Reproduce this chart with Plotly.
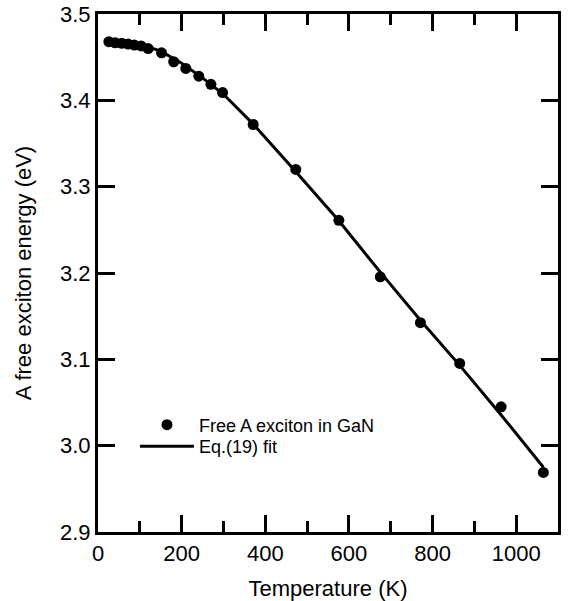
import plotly.graph_objects as go

# Measured data: free A exciton energy in GaN vs temperature
temp_K = [26, 41, 57, 72, 87, 103, 120, 152, 181, 210, 241, 270, 298,
          371, 473, 576, 675, 771, 865, 964, 1065]
energy_eV = [3.468, 3.4667, 3.466, 3.4652, 3.464, 3.463, 3.460, 3.455, 3.4447,
             3.437, 3.428, 3.4185, 3.409, 3.372, 3.320, 3.261, 3.1956, 3.1425,
             3.0952, 3.045, 2.969]

# Eq.(19) fit curve
fit_T = [20, 60, 100, 150, 200, 250, 300, 370, 470, 575, 675, 775, 865, 965, 1065]
fit_E = [3.470, 3.468, 3.465, 3.457, 3.443, 3.426, 3.407, 3.373, 3.319, 3.261,
         3.201, 3.143, 3.093, 3.035, 2.975]

x_ticks = [0, 200, 400, 600, 800, 1000]
y_ticks = [2.9, 3.0, 3.1, 3.2, 3.3, 3.4, 3.5]

FONT = "Arial, Liberation Sans, sans-serif"

fig = go.Figure()
fig.add_trace(go.Scatter(
    x=temp_K, y=energy_eV, mode="markers", name="Free A exciton in GaN",
    marker=dict(color="black", size=11), legend="legend",
))
fig.add_trace(go.Scatter(
    x=fit_T, y=fit_E, mode="lines", name="Eq.(19) fit",
    line=dict(color="black", width=3), legend="legend2",
))

axis_common = dict(
    showline=True, linecolor="black", linewidth=3, mirror="ticks",
    ticks="inside", ticklen=17, tickwidth=3, tickcolor="black",
    showgrid=False, zeroline=False, automargin=False,
    tickfont=dict(family=FONT, size=22, color="black"),
)

fig.update_xaxes(
    range=[0, 1100], tickvals=x_ticks, ticktext=[str(v) for v in x_ticks],
    title=dict(text="Temperature (K)", font=dict(family=FONT, size=22, color="black"), standoff=16),
    minor=dict(dtick=100, tick0=0, ticks="inside", ticklen=11, tickwidth=3, tickcolor="black", showgrid=False),
    **axis_common,
)
fig.update_yaxes(
    range=[2.9, 3.5], tickvals=y_ticks, ticktext=[f"{v:.1f}" for v in y_ticks],
    title=dict(text="A free exciton energy (eV)", font=dict(family=FONT, size=22, color="black"), standoff=23),
    **axis_common,
)

legend_common = dict(
    xanchor="left", yanchor="middle",
    bgcolor="rgba(0,0,0,0)", borderwidth=0,
    font=dict(family=FONT, size=18, color="black"),
    itemwidth=54,
)

fig.update_layout(
    width=571, height=601,
    margin=dict(l=98, r=13, t=14, b=69),
    plot_bgcolor="white", paper_bgcolor="white",
    showlegend=True,
    legend=dict(x=0.0804, y=0.2065, **legend_common),
    legend2=dict(x=0.0804, y=0.165, **legend_common),
    font=dict(family=FONT, color="black"),
)

fig.write_html("out.html")
